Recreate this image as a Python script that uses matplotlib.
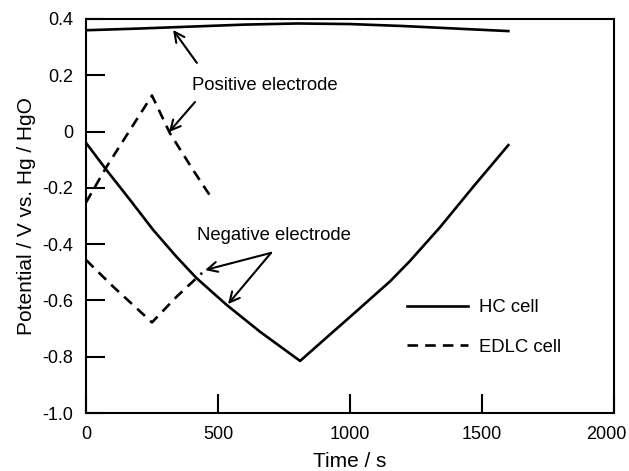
import matplotlib
matplotlib.use('Agg')
import matplotlib.pyplot as plt
import matplotlib.transforms as mtransforms
from matplotlib.lines import Line2D

plt.rcParams['font.family'] = ['Liberation Sans', 'DejaVu Sans']

# HC cell, positive electrode
hc_pos_t = [0, 200, 400, 600, 800, 1000, 1200, 1400, 1600]
hc_pos_v = [0.360, 0.366, 0.373, 0.380, 0.384, 0.382, 0.375, 0.366, 0.357]

# HC cell, negative electrode
hc_neg_t = [0, 78, 167, 255, 343, 419, 533, 659, 811, 899, 1025, 1152, 1227, 1341, 1467, 1600]
hc_neg_v = [-0.040, -0.137, -0.243, -0.350, -0.445, -0.521, -0.616, -0.711, -0.815,
            -0.742, -0.638, -0.532, -0.460, -0.340, -0.196, -0.048]

# EDLC cell, positive electrode
edlc_pos_t = [0, 78, 250, 318, 406, 482]
edlc_pos_v = [-0.252, -0.125, 0.128, -0.006, -0.137, -0.245]

# EDLC cell, negative electrode
edlc_neg_t = [0, 103, 250, 343, 440]
edlc_neg_v = [-0.456, -0.551, -0.678, -0.587, -0.502]

x_ticks = [0, 500, 1000, 1500, 2000]
y_ticks = [-1.0, -0.8, -0.6, -0.4, -0.2, 0, 0.2, 0.4]
y_tick_labels = ['-1.0', '-0.8', '-0.6', '-0.4', '-0.2', '0', '0.2', '0.4']

fig = plt.figure(figsize=(6.29, 4.71), dpi=100)
ax = fig.add_axes([0.1367, 0.1231, 0.8394, 0.8366])

lw = 1.9
ax.plot(hc_pos_t, hc_pos_v, color='black', lw=lw)
ax.plot(hc_neg_t, hc_neg_v, color='black', lw=lw)
ax.plot(edlc_pos_t, edlc_pos_v, color='black', lw=lw, dashes=(4, 2.7))
ax.plot(edlc_neg_t, edlc_neg_v, color='black', lw=lw, dashes=(4, 2.7))

ax.set_xlim(0, 2000)
ax.set_ylim(-1.0, 0.4)
ax.set_xticks(x_ticks)
ax.set_xticklabels([str(t) for t in x_ticks])
ax.set_yticks(y_ticks)
ax.set_yticklabels(y_tick_labels)
ax.tick_params(direction='in', length=13.5, width=1.5, labelsize=13, pad=9,
               top=False, right=False)
for s in ax.spines.values():
    s.set_linewidth(1.5)

# last x label pulled in so it stays inside the figure
last = ax.get_xticklabels()[-1]
last.set_transform(last.get_transform() +
                   mtransforms.ScaledTranslation(-8 / 100, 0, fig.dpi_scale_trans))

ax.set_xlabel('Time / s', fontsize=15, labelpad=7)
ax.set_ylabel('Potential / V vs. Hg / HgO', fontsize=15, labelpad=5)

arrow = dict(arrowstyle='->', lw=1.5, color='black', shrinkA=0, shrinkB=0,
             mutation_scale=18)
ax.text(402, 0.162, 'Positive electrode', fontsize=13.3, ha='left', va='center')
ax.annotate('', xy=(330, 0.361), xytext=(420, 0.244), arrowprops=arrow)
ax.annotate('', xy=(314, -0.002), xytext=(413, 0.105), arrowprops=arrow)

ax.text(420, -0.368, 'Negative electrode', fontsize=13.3, ha='left', va='center')
ax.annotate('', xy=(451, -0.492), xytext=(701, -0.431), arrowprops=arrow)
ax.annotate('', xy=(538, -0.613), xytext=(701, -0.431), arrowprops=arrow)

handles = [Line2D([], [], color='black', lw=lw),
           Line2D([], [], color='black', lw=lw, dashes=(4, 2.7))]
ax.legend(handles, ['HC cell', 'EDLC cell'], loc='center left',
          bbox_to_anchor=(0.608, 0.217), frameon=False, fontsize=13.3,
          handlelength=3.3, handletextpad=0.6, labelspacing=1.2,
          borderpad=0, borderaxespad=0)

fig.savefig('out.png', dpi=100)
